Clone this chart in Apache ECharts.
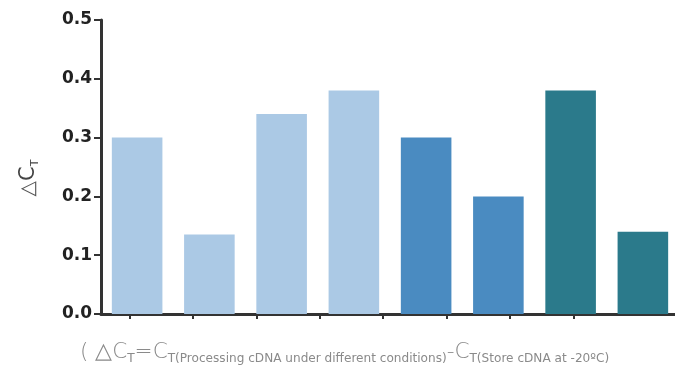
<!DOCTYPE html>
<html>
<head>
<meta charset="utf-8">
<script src="https://cdn.jsdelivr.net/npm/echarts@6/dist/echarts.min.js"></script>
<style>
  html, body { margin: 0; padding: 0; background: #fff; overflow: hidden; }
  #chart { width: 690px; height: 370px; }
</style>
</head>
<body>
<div id="chart"></div>
<script>
// ΔCT for each handling condition, in drawing order
const conditions = ['c1', 'c2', 'c3', 'c4', 'c5', 'c6', 'c7', 'c8'];
const deltaCt = [0.30, 0.135, 0.34, 0.38, 0.30, 0.20, 0.38, 0.14];
const yTicks = [0.0, 0.1, 0.2, 0.3, 0.4, 0.5];

// bar fill by condition group
const barColors = ['#abc9e5', '#abc9e5', '#abc9e5', '#abc9e5',
                   '#4a8bc1', '#4a8bc1', '#2b7a8b', '#2b7a8b'];

const chart = echarts.init(document.getElementById('chart'), null, { renderer: 'canvas' });

const axisDark = '#333333';
const titleFont = 'DejaVu Sans, sans-serif';

chart.setOption({
  animation: false,
  backgroundColor: '#ffffff',
  grid: [
    { left: 101, width: 578, top: 20, bottom: 56, containLabel: false },
    // tick-mark strip along the bottom axis
    { left: 98, width: 507, top: 20, bottom: 56, containLabel: false }
  ],
  xAxis: [
    {
      type: 'category',
      gridIndex: 0,
      data: conditions,
      axisLine: { show: true, lineStyle: { color: axisDark, width: 3 } },
      axisTick: { show: false },
      axisLabel: { show: false },
      splitLine: { show: false }
    },
    {
      type: 'category',
      gridIndex: 1,
      data: conditions.map(() => ''),
      axisLine: { show: false },
      axisTick: { show: true, alignWithLabel: true, length: 5, lineStyle: { color: axisDark, width: 2 } },
      axisLabel: { show: false },
      splitLine: { show: false }
    }
  ],
  yAxis: [
    {
      type: 'value',
      gridIndex: 0,
      min: yTicks[0],
      max: yTicks[yTicks.length - 1],
      interval: 0.1,
      axisLine: { show: true, lineStyle: { color: axisDark, width: 3 } },
      axisTick: { show: true, length: 7, lineStyle: { color: axisDark, width: 2 } },
      axisLabel: {
        show: true,
        margin: 9,
        color: '#222222',
        fontFamily: 'DejaVu Sans, sans-serif',
        fontWeight: 'bold',
        fontSize: 17,
        formatter: v => v.toFixed(1)
      },
      splitLine: { show: false }
    },
    {
      type: 'value',
      gridIndex: 1,
      min: 0,
      max: 0.5,
      show: false
    }
  ],
  series: [
    {
      type: 'bar',
      xAxisIndex: 0,
      yAxisIndex: 0,
      barCategoryGap: '30%',
      data: deltaCt.map((v, i) => ({ value: v, itemStyle: { color: barColors[i] } })),
      z: 1
    }
  ],
  graphic: [
    {
      // y-axis title: ΔC with subscript T
      type: 'group',
      x: 29,
      y: 178,
      rotation: Math.PI / 2,
      children: [
        {
          type: 'text',
          x: 0,
          y: 0,
          style: {
            text: '{d|△}{c|C}{s|T}',
            align: 'center',
            verticalAlign: 'middle',
            rich: {
              d: { fontSize: 20, fill: '#555', fontFamily: titleFont },
              c: { fontSize: 21, fill: '#444', fontFamily: titleFont },
              s: { fontSize: 11, fill: '#444', fontFamily: titleFont, padding: [12, 0, 0, 0] }
            }
          }
        }
      ]
    },
    {
      type: 'text',
      x: 80,
      y: 352,
      style: {
        text: '{b|( }{b|△C}{s|T}{b|=C}{s|T(Processing cDNA under different conditions)}{b|-C}{s|T(Store cDNA at -20ºC)}',
        align: 'left',
        verticalAlign: 'middle',
        rich: {
          b: { fontSize: 21.5, fill: '#8a8a8a', fontFamily: titleFont, fontWeight: 200 },
          s: { fontSize: 12.1, fill: '#8a8a8a', fontFamily: titleFont, padding: [14, 0, 0, 0] }
        }
      }
    }
  ]
});
</script>
</body>
</html>
